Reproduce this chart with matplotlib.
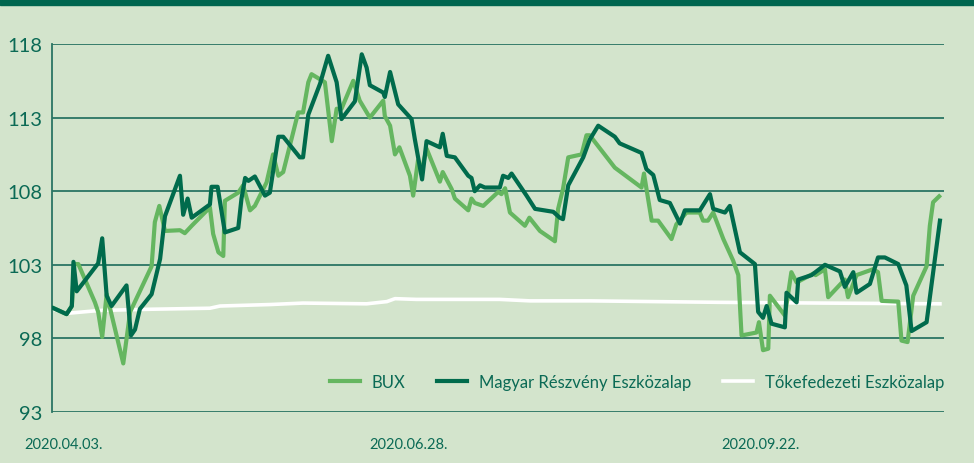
import matplotlib.pyplot as plt

# days from start (2020.03.31) and index values
bux_x = [0, 3.6, 4.9, 5.5, 6.5, 10.6, 11.4, 12.4, 13.5, 17.6, 19.3, 24.6, 25.4, 26.5, 27.9,
         31.6, 32.8, 34.5, 39.0, 39.8, 41.1, 42.3, 42.7, 46.0, 47.2, 48.9, 50.1, 53.0, 54.6,
         55.9, 57.1, 60.8, 62.0, 63.3, 64.1, 67.4, 69.1, 70.3, 71.5, 74.4, 76.0, 78.5, 81.8,
         82.2, 83.5, 84.7, 85.8, 88.4, 89.2, 90.4, 91.3, 92.5, 95.8, 96.5, 98.7, 99.5, 102.8,
         103.6, 104.4, 106.5, 110.2, 111.0, 111.9, 113.1, 116.8, 117.9, 120.5, 124.2, 125.0,
         126.2, 127.5, 130.8, 132.0, 132.8, 139.0, 145.6, 146.2, 148.1, 149.7, 153.0, 154.2,
         156.7, 160.0, 160.8, 162.0, 163.3, 165.8, 168.2, 169.5, 170.3, 174.0, 174.6, 175.6,
         176.9, 177.3, 181.0, 182.6, 183.9, 188.0, 188.6, 190.9, 191.7, 195.8, 196.6, 198.7,
         202.8, 204.0, 204.9, 209.0, 209.8, 211.3, 212.7, 216.0, 216.8, 217.6, 219.1]
bux_y = [100.1, 99.65, 100.2, 103.05, 103.05, 100.45, 99.8, 98.1, 101.0, 96.3, 99.8, 102.9, 105.9,
         107.0, 105.3, 105.35, 105.15, 105.65, 106.9, 105.1, 103.85, 103.6, 107.35, 107.9, 108.4,
         106.7, 107.0, 108.6, 110.5, 109.05, 109.3, 113.35, 113.35, 115.4, 115.95, 115.4, 111.4,
         113.6, 113.6, 115.5, 114.15, 113.0, 114.15, 113.1, 112.45, 110.5, 110.98, 109.05, 107.7,
         110.1, 109.4, 110.9, 108.65, 109.3, 108.15, 107.5, 106.7, 107.5, 107.2, 107.0, 107.95,
         107.8, 108.2, 106.55, 105.65, 106.2, 105.3, 104.6, 106.8, 108.15, 110.3, 110.5, 111.8,
         111.8, 109.6, 108.25, 109.2, 106.0, 106.0, 104.75, 105.75, 106.55, 106.55, 106.0, 106.0,
         106.55, 104.75, 103.3, 102.3, 98.2, 98.4, 99.1, 97.2, 97.3, 100.9, 99.55, 102.5, 101.8,
         102.4, 102.3, 102.7, 100.8, 102.0, 100.8, 102.3, 102.7, 102.5, 100.55, 100.5, 97.85,
         97.75, 100.9, 102.9, 105.65, 107.25, 107.65]

mre_x = [0, 3.6, 4.9, 5.3, 6.1, 11.4, 12.4, 13.5, 14.7, 18.4, 19.5, 20.5, 21.7, 24.6, 26.7, 27.9,
         31.6, 32.4, 33.5, 34.5, 39.0, 39.4, 40.9, 42.7, 46.0, 46.8, 47.7, 48.5, 50.1, 52.6, 53.8,
         55.9, 57.1, 61.2, 62.0, 63.3, 66.2, 68.2, 70.3, 71.5, 74.8, 76.5, 77.7, 78.5, 81.8, 82.2,
         83.5, 85.5, 88.8, 89.6, 91.4, 92.5, 95.8, 96.5, 97.5, 99.5, 102.8, 103.6, 104.4, 105.7,
         106.9, 110.6, 111.4, 112.7, 113.5, 117.2, 119.3, 123.8, 125.4, 126.2, 127.5, 131.2,
         132.8, 134.9, 139.0, 140.2, 145.6, 146.8, 148.5, 150.1, 152.6, 155.1, 156.3, 160.0,
         162.5, 163.3, 166.2, 167.4, 169.9, 173.6, 174.4, 175.6, 176.5, 177.7, 181.0, 181.4,
         183.9, 184.3, 187.6, 190.9, 194.6, 195.8, 197.9, 198.7, 202.0, 204.0, 205.7, 209.0,
         211.0, 212.3, 216.0, 219.3]
mre_y = [100.1, 99.65, 100.2, 103.2, 101.2, 103.1, 104.8, 100.9, 100.2, 101.6, 98.2, 98.6, 100.0,
         101.0, 103.4, 106.3, 109.05, 106.4, 107.5, 106.2, 107.1, 108.3, 108.3, 105.2, 105.5,
         107.5, 108.9, 108.7, 109.0, 107.7, 107.9, 111.7, 111.7, 110.3, 110.3, 113.2, 115.3,
         117.2, 115.4, 112.9, 114.1, 117.3, 116.4, 115.2, 114.7, 114.4, 116.1, 113.9, 112.9,
         111.55, 108.8, 111.4, 110.98, 111.9, 110.4, 110.3, 109.05, 108.9, 108.0, 108.4, 108.25,
         108.25, 109.05, 108.9, 109.2, 107.7, 106.8, 106.6, 106.2, 106.1, 108.4, 110.3, 111.5,
         112.45, 111.7, 111.25, 110.6, 109.5, 109.1, 107.4, 107.2, 105.8, 106.7, 106.7, 107.8,
         106.8, 106.55, 107.0, 103.85, 103.05, 99.8, 99.4, 100.2, 99.0, 98.75, 101.1, 100.45,
         102.0, 102.3, 103.0, 102.55, 101.5, 102.5, 101.1, 101.7, 103.5, 103.5, 103.05, 101.6,
         98.5, 99.1, 106.0]

tok_x = [0, 3.6, 11.8, 24.2, 39.0, 41.5, 53.8, 62.0, 77.7, 82.7, 84.7, 90.0, 110.6, 118.0,
         132.8, 165.0, 190.0, 219.3]
tok_y = [100.0, 99.7, 99.9, 99.98, 100.05, 100.2, 100.3, 100.4, 100.35, 100.5, 100.7, 100.65,
         100.65, 100.55, 100.55, 100.45, 100.4, 100.35]

date_pos = [2.8, 88, 175]
date_labels = ['2020.04.03.', '2020.06.28.', '2020.09.22.']
yticks = [93, 98, 103, 108, 113, 118]

bg = '#d3e4cc'
dark = '#006b4c'
light = '#65b660'
txt = '#0b6a55'

plt.rcParams['font.family'] = ['Lato', 'DejaVu Sans']

fig = plt.figure(figsize=(9.74, 4.64), dpi=100, facecolor=bg)
ax = fig.add_axes([52 / 974, 1 - 413 / 464, 892 / 974, 368 / 464])
ax.set_facecolor(bg)

# top band
fig.patches.append(plt.Rectangle((0, 1 - 6 / 464), 1, 6 / 464, transform=fig.transFigure,
                                 color='#00664f', zorder=0))

for v in yticks:
    ax.axhline(v, color='#2a7563', lw=1.3, zorder=1)

ax.plot(tok_x, tok_y, color='white', lw=2.6, zorder=2, label='Tőkefedezeti Eszközalap')
ax.plot(bux_x, bux_y, color=light, lw=3.0, zorder=3, label='BUX')
ax.plot(mre_x, mre_y, color=dark, lw=3.0, zorder=4, label='Magyar Részvény Eszközalap')

ax.set_xlim(0, 220.3)
ax.set_ylim(93, 118)
ax.set_yticks(yticks)
ax.set_xticks(date_pos)
ax.set_xticklabels(date_labels)
ax.tick_params(axis='y', length=0, labelsize=14.5, colors=txt, pad=7)
ax.tick_params(axis='x', length=0, labelsize=10.5, colors=txt, pad=18)
for s in ['top', 'right', 'bottom']:
    ax.spines[s].set_visible(False)
ax.spines['left'].set_color('#2a7563')
ax.spines['left'].set_linewidth(1.3)

h, l = ax.get_legend_handles_labels()
leg = ax.legend([h[1], h[2], h[0]], [l[1], l[2], l[0]], ncol=3, frameon=False,
                loc='center right', bbox_to_anchor=(1.0, 0.0815), fontsize=12,
                handlelength=1.8, handletextpad=0.7, columnspacing=1.9, labelcolor=txt,
                borderaxespad=0, borderpad=0)

fig.savefig('out.png', dpi=100, facecolor=bg)
